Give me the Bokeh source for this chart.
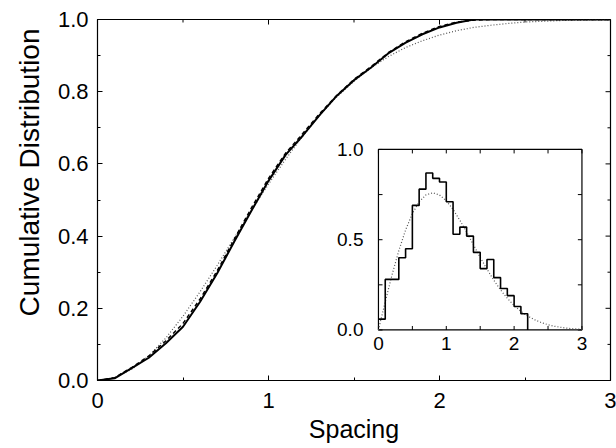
from bokeh.plotting import figure
from bokeh.models import Range1d, SingleIntervalTicker, NumeralTickFormatter, Title
from bokeh.core.properties import value
from bokeh.embed import file_html
from bokeh.resources import INLINE

# ---------------- data ----------------
spacing = [0.0, 0.1, 0.2, 0.3, 0.4, 0.5, 0.6, 0.7, 0.8, 0.9, 1.0,
           1.1, 1.2, 1.3, 1.4, 1.5, 1.6, 1.7, 1.8, 1.9, 2.0,
           2.1, 2.2, 2.3, 2.4, 2.5, 2.6, 2.7, 2.8, 2.9, 3.0]

cdf_data = [0.000, 0.006, 0.034, 0.063, 0.103, 0.149, 0.218, 0.297, 0.385, 0.470, 0.553,
            0.625, 0.678, 0.736, 0.789, 0.832, 0.867, 0.906, 0.935, 0.959, 0.978,
            0.991, 1.000, 1.000, 1.000, 1.000, 1.000, 1.000, 1.000, 1.000, 1.000]

cdf_data2 = [0.000, 0.008, 0.036, 0.068, 0.110, 0.158, 0.226, 0.304, 0.392, 0.478, 0.560,
             0.630, 0.684, 0.740, 0.790, 0.834, 0.870, 0.908, 0.938, 0.962, 0.981,
             0.993, 0.998, 1.000, 1.000, 1.000, 1.000, 1.000, 1.000, 1.000, 1.000]

cdf_wigner = [0.000, 0.008, 0.031, 0.068, 0.118, 0.178, 0.246, 0.319, 0.395, 0.471, 0.544,
              0.613, 0.677, 0.735, 0.786, 0.829, 0.866, 0.897, 0.922, 0.941, 0.957,
              0.969, 0.978, 0.984, 0.989, 0.993, 0.995, 0.997, 0.998, 0.999, 0.999]

pdf_wigner = [0.000, 0.156, 0.305, 0.439, 0.554, 0.645, 0.710, 0.748, 0.760, 0.748, 0.716,
              0.668, 0.608, 0.542, 0.472, 0.402, 0.337, 0.276, 0.222, 0.175, 0.136,
              0.103, 0.077, 0.057, 0.041, 0.029, 0.020, 0.014, 0.009, 0.006, 0.004]

hist_edges = [0.0, 0.1, 0.2, 0.3, 0.4, 0.5, 0.6, 0.7, 0.8, 0.9, 1.0,
              1.1, 1.2, 1.3, 1.4, 1.5, 1.6, 1.7, 1.8, 1.9, 2.0, 2.1, 2.2]
hist_heights = [0.06, 0.28, 0.28, 0.40, 0.45, 0.69, 0.78, 0.87, 0.84, 0.82, 0.71,
                0.53, 0.57, 0.52, 0.43, 0.34, 0.39, 0.29, 0.23, 0.19, 0.13, 0.09]

main_xticks_major = [0.0, 1.0, 2.0, 3.0]
main_xticks_minor = [0.5, 1.5, 2.5]
main_yticks_major = [0.0, 0.2, 0.4, 0.6, 0.8, 1.0]
main_yticks_minor = [0.1, 0.3, 0.5, 0.7, 0.9]

inset_xticks = [0.0, 0.5, 1.0, 1.5, 2.0, 2.5, 3.0]
inset_yticks = [0.0, 0.25, 0.5, 0.75, 1.0]
inset_xlabel_pos = [0, 1, 2, 3]
inset_xlabels = ["0", "1", "2", "3"]
inset_ylabel_pos = [0.0, 0.5, 1.0]
inset_ylabels = ["0.0", "0.5", "1.0"]

x_title = "Spacing"
y_title = "Cumulative Distribution"

FONT = "Liberation Sans"

# ---------------- main figure ----------------
p = figure(width=616, height=448, x_range=Range1d(0, 3), y_range=Range1d(0, 1),
           output_backend="svg", toolbar_location=None,
           min_border_left=97, min_border_right=6, min_border_top=19, min_border_bottom=68)
p.grid.visible = False
p.background_fill_color = "white"
p.border_fill_color = "white"
p.outline_line_color = "black"
p.outline_line_width = 1.2

xax = p.xaxis[0]
yax = p.yaxis[0]
xax.ticker = SingleIntervalTicker(interval=1, num_minor_ticks=2)
yax.ticker = SingleIntervalTicker(interval=0.2, num_minor_ticks=2)
yax.formatter = NumeralTickFormatter(format="0.0")
for ax in (xax, yax):
    ax.axis_line_color = "black"
    ax.major_tick_in = 5
    ax.major_tick_out = 0
    ax.minor_tick_in = 3
    ax.minor_tick_out = 0
    ax.major_tick_line_color = "black"
    ax.minor_tick_line_color = "black"
    ax.major_label_text_font = FONT
    ax.major_label_text_font_size = "22px"
    ax.major_label_text_color = "black"
    ax.axis_label_text_font = FONT
    ax.axis_label_text_font_style = "normal"
    ax.axis_label_text_color = "black"
xax.axis_label = x_title
xax.axis_label_text_font_size = "25px"
xax.major_label_standoff = 12
xax.axis_label_standoff = 4
yax.major_label_standoff = 9

# y title as a left-side title, placed near the top as in the reference
ytitle = Title(text=y_title, align="right", offset=9, standoff=19,
               text_font=FONT, text_font_size="28px", text_font_style="normal",
               text_color="black")
p.add_layout(ytitle, "left")

# mirror ticks on top and right edges
mj_x, mn_x = 0.029, 0.0175
mj_y, mn_y = 0.0139, 0.0083
p.segment(x0=main_xticks_major, y0=[1.0] * 4, x1=main_xticks_major, y1=[1.0 - mj_y] * 4,
          line_color="black", line_width=1)
p.segment(x0=main_xticks_minor, y0=[1.0] * 3, x1=main_xticks_minor, y1=[1.0 - mn_y] * 3,
          line_color="black", line_width=1)
p.segment(x0=[3.0] * 6, y0=main_yticks_major, x1=[3.0 - mj_x] * 6, y1=main_yticks_major,
          line_color="black", line_width=1)
p.segment(x0=[3.0] * 5, y0=main_yticks_minor, x1=[3.0 - mn_x] * 5, y1=main_yticks_minor,
          line_color="black", line_width=1)

# main curves
p.line(spacing, cdf_wigner, line_color="#555555", line_width=1.2, line_dash="1 2")
p.line(spacing, cdf_data2, line_color="black", line_width=1.4, line_dash="4 3")
p.line(spacing, cdf_data, line_color="black", line_width=2)

# ---------------- inset ----------------
sub = p.subplot(x_source=Range1d(0, 3), y_source=Range1d(0, 1),
                x_target=Range1d(1.643, 2.833), y_target=Range1d(0.140, 0.640))

sub.quad(left=[0], right=[3], bottom=[0], top=[1], fill_color="white",
         line_color="black", line_width=1.2)

tlx = 0.06
tly = 0.022
sub.segment(x0=inset_xticks, y0=[0] * len(inset_xticks), x1=inset_xticks,
            y1=[tly] * len(inset_xticks), line_color="black", line_width=1)
sub.segment(x0=inset_xticks, y0=[1] * len(inset_xticks), x1=inset_xticks,
            y1=[1 - tly] * len(inset_xticks), line_color="black", line_width=1)
sub.segment(x0=[0] * len(inset_yticks), y0=inset_yticks, x1=[tlx] * len(inset_yticks),
            y1=inset_yticks, line_color="black", line_width=1)
sub.segment(x0=[3] * len(inset_yticks), y0=inset_yticks, x1=[3 - tlx] * len(inset_yticks),
            y1=inset_yticks, line_color="black", line_width=1)

sub.line(spacing, pdf_wigner, line_color="#555555", line_width=1.2, line_dash="1 2")
sub.step(x=hist_edges, y=hist_heights + [0.0], mode="after",
         line_color="black", line_width=1.6)

sub.text(x=inset_xlabel_pos, y=[0] * len(inset_xlabel_pos), text=inset_xlabels,
         text_align="center", text_baseline="top", y_offset=7,
         text_font=value(FONT), text_font_size="19px", text_color="black")
sub.text(x=[0] * len(inset_ylabel_pos), y=inset_ylabel_pos, text=inset_ylabels,
         text_align="right", text_baseline="middle", x_offset=-15,
         text_font=value(FONT), text_font_size="19px", text_color="black")

open("out.html", "w").write(file_html(p, INLINE))
